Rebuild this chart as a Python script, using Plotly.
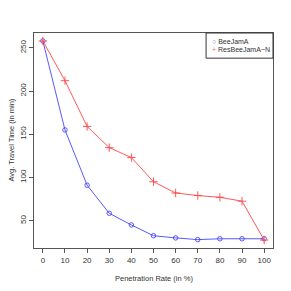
import plotly.graph_objects as go

penetration = [0, 10, 20, 30, 40, 50, 60, 70, 80, 90, 100]
beejama = [258, 155, 91, 58.5, 45, 32.5, 30, 28, 29, 29, 29]
resbeejama_n = [258, 212, 159, 134.5, 123, 95, 82, 79, 77, 72.5, 27.5]
x_ticks = [0, 10, 20, 30, 40, 50, 60, 70, 80, 90, 100]
y_ticks = [50, 100, 150, 200, 250]
series_names = ["BeeJamA", "ResBeeJamA\u2212N"]

font = dict(family="Liberation Sans, Arial, sans-serif", color="#333333")
blue = "rgba(70,70,255,0.9)"
red = "rgba(255,70,70,0.9)"

fig = go.Figure()
fig.add_trace(go.Scatter(
    x=penetration, y=beejama, mode="lines+markers", name=series_names[0], showlegend=False,
    line=dict(color=blue, width=1),
    marker=dict(symbol="circle-open", size=4.5, color=blue, line=dict(width=1)),
))
fig.add_trace(go.Scatter(
    x=penetration, y=resbeejama_n, mode="lines+markers", name=series_names[1], showlegend=False,
    line=dict(color=red, width=1),
    marker=dict(symbol="cross-thin-open", size=6, color=red, line=dict(width=1)),
))

axis_common = dict(
    showgrid=False, zeroline=False, showline=True, mirror=True,
    linecolor="#555555", linewidth=1, ticks="outside", ticklen=4,
    tickcolor="#555555", tickfont=dict(size=8, **font), automargin=False,
)
fig.update_xaxes(range=[-4, 104], tickvals=x_ticks, **axis_common)
fig.update_yaxes(range=[18.3, 267.2], tickvals=y_ticks, tickangle=-90, **axis_common)

# axis titles
fig.add_annotation(text="Penetration Rate (in %)", xref="paper", yref="paper",
                   x=0.5, y=0, yshift=-30, xanchor="center", yanchor="middle",
                   showarrow=False, font=dict(size=7.5, **font))
fig.add_annotation(text="Avg. Travel Time (in min)", xref="paper", yref="paper",
                   x=0, y=0.5, xshift=-23, xanchor="center", yanchor="middle",
                   textangle=-90, showarrow=False, font=dict(size=7.5, **font))

# legend box (R style, top-right)
fig.add_shape(type="rect", xref="paper", yref="paper",
              x0=0.72, x1=1.0, y0=0.883, y1=1.0,
              line=dict(color="#333333", width=1), fillcolor="white", layer="above")
fig.add_annotation(text=f"<span style='color:{blue}'>\u25cb</span> {series_names[0]}",
                   xref="paper", yref="paper", x=0.735, y=0.962,
                   xanchor="left", yanchor="middle", showarrow=False,
                   font=dict(size=7, **font))
fig.add_annotation(text=f"<span style='color:{red}'>+</span> {series_names[1]}",
                   xref="paper", yref="paper", x=0.735, y=0.922,
                   xanchor="left", yanchor="middle", showarrow=False,
                   font=dict(size=7, **font))

fig.update_layout(
    width=291, height=291,
    margin=dict(l=34, r=18, t=33, b=43),
    paper_bgcolor="white", plot_bgcolor="white",
    font=font, showlegend=False,
)

fig.write_html("out.html", config={"displayModeBar": False},
               post_script="document.body.style.margin='0';")
